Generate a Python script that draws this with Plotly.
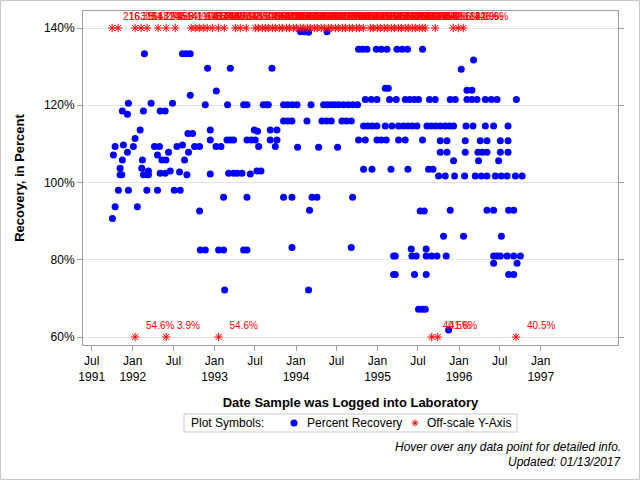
import pandas as pd
import plotly.graph_objects as go

# ---------------- data (dates as decimal years) ----------------
sample_year = [
    1991.750, 1991.762, 1991.783, 1991.783, 1991.823, 1991.844, 1991.844, 1991.865, 1991.872, 1991.872,
    1991.885, 1991.934, 1991.934, 1991.946, 1991.946, 1992.007, 1992.028, 1992.056, 1992.090, 1992.110,
    1992.118, 1992.130, 1992.130, 1992.142, 1992.172, 1992.172, 1992.191, 1992.191, 1992.224, 1992.265,
    1992.302, 1992.302, 1992.326, 1992.335, 1992.335, 1992.356, 1992.396, 1992.396, 1992.405, 1992.437,
    1992.458, 1992.486, 1992.507, 1992.540, 1992.572, 1992.580, 1992.608, 1992.608, 1992.633, 1992.654,
    1992.662, 1992.675, 1992.682, 1992.703, 1992.703, 1992.731, 1992.756, 1992.817, 1992.817, 1992.826,
    1992.887, 1992.887, 1992.915, 1992.948, 1992.948, 1992.948, 1993.018, 1993.022, 1993.050, 1993.079,
    1993.111, 1993.111, 1993.124, 1993.153, 1993.160, 1993.173, 1993.194, 1993.194, 1993.234, 1993.234,
    1993.279, 1993.337, 1993.357, 1993.357, 1993.398, 1993.398, 1993.398, 1993.398, 1993.439, 1993.451,
    1993.488, 1993.500, 1993.521, 1993.528, 1993.541, 1993.570, 1993.598, 1993.635, 1993.660, 1993.684,
    1993.684, 1993.705, 1993.746, 1993.766, 1993.766, 1993.847, 1993.899, 1993.955, 1994.012, 1993.847,
    1993.899, 1993.950, 1993.847, 1993.950, 1993.950, 1994.019, 1994.056, 1994.105, 1994.154, 1994.134,
    1994.154, 1994.166, 1994.184, 1994.196, 1994.257, 1994.277, 1994.318, 1994.375, 1994.433, 1994.338,
    1994.384, 1994.433, 1994.477, 1994.522, 1994.380, 1994.510, 1994.564, 1994.617, 1994.678, 1994.583,
    1994.641, 1994.697, 1994.755, 1994.678, 1994.694, 1994.767, 1994.816, 1994.870, 1994.767, 1994.850,
    1994.829, 1994.883, 1994.936, 1994.993, 1994.850, 1994.923, 1994.993, 1994.829, 1994.932, 1994.985,
    1995.046, 1995.116, 1994.993, 1995.046, 1995.107, 1995.095, 1995.177, 1995.258, 1995.095, 1995.132,
    1995.148, 1995.230, 1995.165, 1995.197, 1995.218, 1995.197, 1995.218, 1995.238, 1995.303, 1995.368,
    1995.258, 1995.340, 1995.319, 1995.373, 1995.426, 1995.484, 1995.340, 1995.395, 1995.451, 1995.503,
    1995.373, 1995.414, 1995.422, 1995.475, 1995.454, 1995.503, 1995.545, 1995.586, 1995.524, 1995.573,
    1995.552, 1995.552, 1995.597, 1995.597, 1995.663, 1995.729, 1995.597, 1995.606, 1995.659, 1995.714,
    1995.770, 1995.626, 1995.680, 1995.638, 1995.708, 1995.749, 1995.831, 1995.770, 1995.852, 1995.770,
    1995.852, 1995.810, 1995.831, 1995.886, 1995.933, 1995.843, 1995.872, 1995.892, 1995.954, 1995.892,
    1995.933, 1995.945, 1996.027, 1996.055, 1996.068, 1996.076, 1996.076, 1996.085, 1996.171, 1996.097,
    1996.158, 1996.220, 1996.097, 1996.158, 1996.178, 1996.199, 1996.273, 1996.342, 1996.232, 1996.285,
    1996.342, 1996.239, 1996.260, 1996.342, 1996.322, 1996.395, 1996.465, 1996.322, 1996.423, 1996.342,
    1996.423, 1996.423, 1996.465, 1996.506, 1996.423, 1996.444, 1996.518, 1996.588, 1996.485, 1996.506,
    1996.600, 1996.506, 1996.600, 1996.518, 1996.588, 1996.669, 1996.751, 1996.600, 1996.607, 1996.669,
    1996.607, 1996.669, 1996.690, 1996.772, 1996.702, 1996.710,
]
recovery_pct = [
    90.7, 107.1, 93.7, 109.3, 98.0, 103.7, 102.0, 102.0, 105.8, 118.5,
    109.7, 107.8, 117.7, 98.0, 120.5, 109.3, 111.4, 93.7, 113.6, 103.7,
    105.8, 118.5, 102.0, 133.3, 102.0, 98.0, 103.0, 102.0, 120.5, 109.3,
    107.1, 98.0, 109.3, 118.5, 102.4, 105.8, 118.5, 102.4, 105.8, 107.8,
    103.0, 120.5, 98.0, 109.3, 102.7, 98.0, 133.3, 109.7, 105.8, 133.3,
    102.0, 112.7, 107.8, 133.3, 122.6, 112.7, 109.3, 109.3, 92.6, 82.5,
    82.5, 120.1, 129.6, 113.6, 111.0, 102.2, 109.3, 123.7, 82.5, 109.3,
    82.5, 96.2, 72.2, 111.0, 120.1, 102.4, 129.6, 111.0, 111.0, 102.4,
    102.4, 102.4, 120.1, 82.5, 82.5, 111.0, 96.2, 120.1, 102.2, 111.0,
    113.6, 111.0, 103.0, 113.3, 109.3, 103.0, 120.1, 120.1, 120.1, 113.6,
    111.0, 129.6, 109.3, 113.6, 111.0, 120.1, 120.1, 120.1, 120.1, 115.9,
    115.9, 115.9, 96.2, 96.2, 83.2, 109.1, 139.0, 139.0, 138.9, 115.9,
    72.2, 92.8, 120.1, 96.2, 96.2, 109.1, 115.9, 115.9, 115.9, 120.1,
    120.1, 120.1, 120.1, 120.1, 139.0, 109.1, 115.9, 115.9, 115.9, 120.1,
    120.1, 120.1, 120.1, 83.2, 96.2, 134.5, 134.5, 134.5, 111.0, 111.0,
    114.6, 114.6, 114.6, 114.6, 121.5, 121.5, 121.5, 103.4, 103.4, 134.5,
    134.5, 134.5, 111.0, 111.0, 111.0, 114.6, 114.6, 114.6, 124.4, 124.4,
    121.5, 121.5, 103.4, 81.0, 81.0, 76.2, 76.2, 134.5, 134.5, 134.5,
    111.0, 111.0, 114.6, 114.6, 114.6, 114.6, 121.5, 121.5, 121.5, 121.5,
    103.4, 82.8, 81.0, 81.0, 76.2, 67.2, 67.2, 67.2, 92.6, 92.6,
    134.5, 111.0, 82.8, 81.0, 81.0, 81.0, 76.2, 114.6, 114.6, 114.6,
    114.6, 103.4, 103.4, 121.5, 121.5, 101.7, 101.7, 110.8, 110.8, 107.8,
    107.8, 86.1, 114.6, 114.6, 114.6, 81.0, 61.8, 121.5, 121.5, 92.8,
    105.6, 101.7, 129.3, 86.1, 101.7, 110.8, 107.8, 114.6, 114.6, 121.5,
    121.5, 121.5, 123.9, 123.9, 131.7, 101.7, 101.7, 101.7, 107.8, 107.8,
    107.8, 105.6, 110.8, 110.8, 121.5, 121.5, 121.5, 114.6, 114.6, 92.8,
    92.8, 81.0, 81.0, 81.0, 79.1, 101.7, 101.7, 101.7, 105.6, 110.8,
    110.8, 107.8, 107.8, 86.1, 81.0, 81.0, 81.0, 114.6, 92.8, 92.8,
    76.2, 76.2, 101.7, 101.7, 121.5, 79.1,
]

# off-scale results (true values above 140% / below 60%)
high_year = [
    1991.746, 1991.820, 1992.028, 1992.102, 1992.175, 1992.310, 1992.408, 1992.519, 1992.715, 1992.764, 1992.813, 1992.862,
    1992.911, 1992.973, 1993.046, 1993.120, 1993.255, 1993.316, 1993.390, 1993.500, 1993.537, 1993.586, 1993.623, 1993.660,
    1993.709, 1993.746, 1993.795, 1993.832, 1993.882, 1993.918, 1993.967, 1994.004, 1994.052, 1994.089, 1994.139, 1994.175,
    1994.224, 1994.261, 1994.310, 1994.347, 1994.396, 1994.433, 1994.482, 1994.519, 1994.568, 1994.605, 1994.654, 1994.691,
    1994.740, 1994.777, 1994.826, 1994.911, 1994.948, 1994.997, 1995.034, 1995.083, 1995.120, 1995.169, 1995.206, 1995.255,
    1995.291, 1995.340, 1995.377, 1995.426, 1995.463, 1995.512, 1995.549, 1995.586, 1995.708, 1995.929, 1995.991, 1996.052,
]
high_value = [
    216.3, 163.5, 151.2, 148.7, 172.4, 145.9, 158.1, 141.6, 166.2, 149.3, 183.5, 152.8,
    147.1, 144.6, 156.9, 170.2, 143.8, 161.4, 150.5, 142.9, 155.7, 146.3, 168.8, 141.2,
    153.6, 149.9, 175.3, 144.1, 159.2, 147.8, 162.5, 143.3, 151.9, 146.6, 157.4, 140.8,
    164.7, 148.2, 145.1, 171.6, 152.3, 142.4, 154.8, 149.5, 160.9, 143.7, 147.4, 158.6,
    141.9, 150.2, 166.9, 145.5, 153.1, 148.9, 142.7, 156.3, 144.9, 151.6, 162.1, 146.8,
    149.1, 155.2, 143.2, 147.9, 152.5, 141.4, 158.8, 145.2, 149.6, 162.9, 142.9, 146.6,
]
low_year = [1992.028, 1992.408, 1993.050, 1995.665, 1995.739, 1996.698]
low_value = [54.6, 3.9, 54.6, 40.5, 41.6, 40.5]

scale_max = 140
scale_min = 60
y_tick_vals = [60, 80, 100, 120, 140]
y_tick_text = [f"{v}%" for v in y_tick_vals]
x_tick_dates = ["1991-07-01", "1992-01-01", "1992-07-01", "1993-01-01", "1993-07-01", "1994-01-01",
                "1994-07-01", "1995-01-01", "1995-07-01", "1996-01-01", "1996-07-01", "1997-01-01"]
x_tick_text = ["Jul<br>1991", "Jan<br>1992", "Jul", "Jan<br>1993", "Jul", "Jan<br>1994",
               "Jul", "Jan<br>1995", "Jul", "Jan<br>1996", "Jul", "Jan<br>1997"]
x_range = ["1991-05-23", "1997-12-13"]


def to_date(yr):
    yi = int(yr)
    start = pd.Timestamp(yi, 1, 1)
    end = pd.Timestamp(yi + 1, 1, 1)
    return start + (end - start) * (yr - yi)


dates = [to_date(v) for v in sample_year]
off_dates = [to_date(v) for v in high_year] + [to_date(v) for v in low_year]
off_y = [scale_max] * len(high_year) + [scale_min] * len(low_year)
off_vals = high_value + low_value
off_labels = ["\u00a0\u00a0" + f"{v:.1f}%" for v in off_vals]

FONT = "Arial, Liberation Sans, sans-serif"
GREY = "#a0a0a0"

# plot-area geometry in pixels (used to place the hand-made legend in paper units)
PW, PH = 535.0, 334.0

fig = go.Figure()
fig.add_trace(go.Scatter(
    x=dates, y=recovery_pct, mode="markers", name="Percent Recovery",
    marker=dict(color="#0000ff", size=7, symbol="circle", line=dict(width=0)),
    hovertemplate="%{x|%m/%d/%Y}<br>Recovery: %{y:.1f}%<extra></extra>",
))
fig.add_trace(go.Scatter(
    x=off_dates, y=off_y, mode="markers", name="Off-scale Y-Axis",
    marker=dict(symbol="asterisk-open", size=7, color="#ff0000", line=dict(color="#ff0000", width=1)),
    customdata=off_vals,
    hovertemplate="%{x|%m/%d/%Y}<br>Recovery: %{customdata:.1f}%<extra></extra>",
))
fig.add_trace(go.Scatter(
    x=off_dates, y=off_y, mode="markers+text", text=off_labels, textposition="top right",
    textfont=dict(color="#ff0000", size=10, family=FONT),
    marker=dict(size=7, opacity=0), showlegend=False, hoverinfo="skip",
))

# reference line at 100 %
fig.add_shape(type="line", xref="paper", x0=0, x1=1, yref="y", y0=100, y1=100,
              line=dict(color="black", width=1), layer="between")
# outer border of the graphic
fig.add_shape(type="rect", xref="paper", yref="paper", x0=-0.1542, x1=1.0402, y0=-0.4027, y1=1.0314,
              line=dict(color="#c8c8c8", width=1), layer="above")

# ---- legend box: "Plot Symbols:  ● Percent Recovery  * Off-scale Y-Axis" ----
leg_y = -0.2335
fig.add_shape(type="rect", xref="paper", yref="paper", x0=0.1888, x1=0.8112, y0=-0.2605, y1=-0.2066,
              line=dict(color="#c8c8c8", width=1), fillcolor="white", layer="above")
fig.add_annotation(xref="paper", yref="paper", x=0.1981, y=leg_y, xanchor="left", yanchor="middle",
                   text="Plot Symbols:", showarrow=False, font=dict(size=12, family=FONT, color="black"))
cx = 0.3944
fig.add_shape(type="circle", xref="paper", yref="paper",
              x0=cx - 3.5 / PW, x1=cx + 3.5 / PW, y0=leg_y - 3.5 / PH, y1=leg_y + 3.5 / PH,
              fillcolor="#0000ff", line=dict(width=0), layer="above")
fig.add_annotation(xref="paper", yref="paper", x=0.4150, y=leg_y, xanchor="left", yanchor="middle",
                   text="Percent Recovery", showarrow=False, font=dict(size=12, family=FONT, color="black"))
sx = 0.6206
dx, dy = 3.5 / PW, 3.5 / PH
ddx, ddy = dx * 0.707, dy * 0.707
star_path = (f"M {sx - dx},{leg_y} L {sx + dx},{leg_y} "
             f"M {sx},{leg_y - dy} L {sx},{leg_y + dy} "
             f"M {sx - ddx},{leg_y - ddy} L {sx + ddx},{leg_y + ddy} "
             f"M {sx - ddx},{leg_y + ddy} L {sx + ddx},{leg_y - ddy}")
fig.add_shape(type="path", xref="paper", yref="paper", path=star_path,
              line=dict(color="#ff0000", width=1), layer="above")
fig.add_annotation(xref="paper", yref="paper", x=0.6393, y=leg_y, xanchor="left", yanchor="middle",
                   text="Off-scale Y-Axis", showarrow=False, font=dict(size=12, family=FONT, color="black"))

# footnotes
fig.add_annotation(xref="paper", yref="paper", x=1.0093, y=-0.305, xanchor="right", yanchor="middle",
                   text="<i>Hover over any data point for detailed info.</i>", showarrow=False,
                   font=dict(size=12, family=FONT, color="black"))
fig.add_annotation(xref="paper", yref="paper", x=1.0093, y=-0.350, xanchor="right", yanchor="middle",
                   text="<i>Updated: 01/13/2017</i>", showarrow=False,
                   font=dict(size=12, family=FONT, color="black"))

fig.update_layout(
    width=640, height=480,
    margin=dict(l=83, r=22, t=11, b=135),
    paper_bgcolor="white", plot_bgcolor="white",
    font=dict(family=FONT, size=12, color="black"),
    hovermode="closest",
    showlegend=False,
    xaxis=dict(type="date", range=x_range, tickmode="array", tickvals=x_tick_dates, ticktext=x_tick_text,
               ticks="outside", ticklen=5, tickcolor=GREY, showline=True, linecolor=GREY, mirror=True,
               showgrid=False, zeroline=False, tickfont=dict(size=12),
               title=dict(text="<b>Date Sample was Logged into Laboratory</b>", font=dict(size=13), standoff=14)),
    yaxis=dict(range=[57.93, 144.4], tickmode="array", tickvals=y_tick_vals, ticktext=y_tick_text,
               ticks="outside", ticklen=5, tickcolor=GREY, showline=True, linecolor=GREY, mirror="ticks",
               showgrid=True, gridcolor="#e3e3e3", zeroline=False, tickfont=dict(size=12),
               title=dict(text="<b>Recovery, in Percent</b>", font=dict(size=13), standoff=16)),
)

fig.write_html("out.html")
